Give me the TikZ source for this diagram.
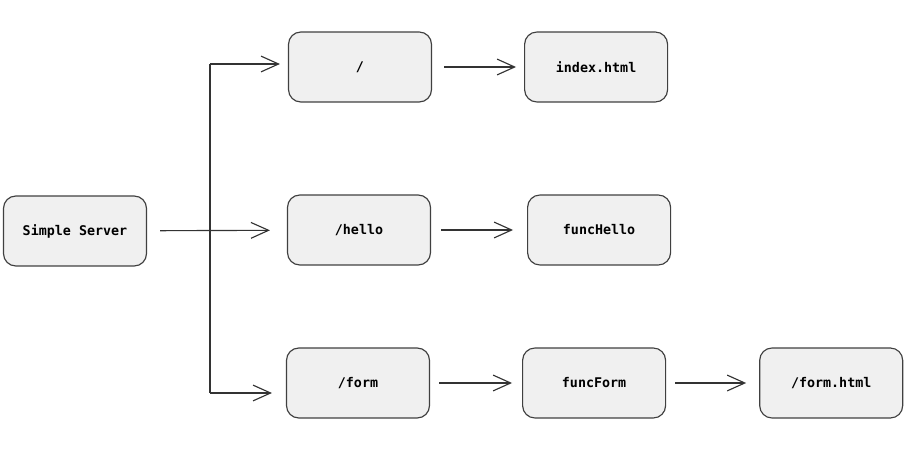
\documentclass[tikz,border=0pt]{standalone}
\usepackage{fontspec}
\setmonofont{DejaVu Sans Mono}
\usepackage{tikz}
\usetikzlibrary{arrows.meta,positioning}
\tikzset{
  rtnode/.style={
    rectangle, rounded corners=7pt, draw=black!75, fill=gray!12, line width=0.65pt,
    minimum width=2.86cm, minimum height=1.4cm,
    align=center, font=\ttfamily\bfseries\fontsize{7.6}{9}\selectfont, inner sep=3pt
  },
  rtarrow/.style={-{Straight Barb[length=10pt,width=9pt]}, line width=0.65pt, draw=black!80},
  rtline/.style={line width=0.65pt, draw=black!80},
}
\begin{document}
\begin{tikzpicture}[x=0.02cm, y=-0.02cm, node distance=0.5cm and 1.84cm]
  \useasboundingbox (0,0) rectangle (913,459);
  \node (server) [rtnode] at (75,231) {Simple Server};
  \node (slash) [rtnode] at (360,67) {/};
  \node (hello) [rtnode] at (359,230) {/hello};
  \node (form) [rtnode] at (358,383) {/form};
  \node (index) [rtnode, right=of slash] {index.html};
  \node (fhello) [rtnode, right=1.92cm of hello] {funcHello};
  \node (fform) [rtnode, right=of form] {funcForm};
  \node (formhtml) [rtnode, right=1.86cm of fform] {/form.html};
  \coordinate (trtop) at (210,64);
  \coordinate (trbot) at (210,393);
  \draw[rtarrow, shorten <=0.26cm, shorten >=0.34cm] (server) -- (hello);
  \draw[rtline] (trtop) -- (trbot);
  \draw[rtarrow, shorten >=0.16cm] (trtop) -- (trtop -| slash.west);
  \draw[rtarrow, shorten >=0.28cm] (trbot) -- (trbot -| form.west);
  \draw[rtarrow, shorten <=0.24cm, shorten >=0.16cm] (slash) -- (index);
  \draw[rtarrow, shorten <=0.2cm, shorten >=0.28cm] (hello) -- (fhello);
  \draw[rtarrow, shorten <=0.18cm, shorten >=0.2cm] (form) -- (fform);
  \draw[rtarrow, shorten <=0.18cm, shorten >=0.26cm] (fform) -- (formhtml);
\end{tikzpicture}
\end{document}
